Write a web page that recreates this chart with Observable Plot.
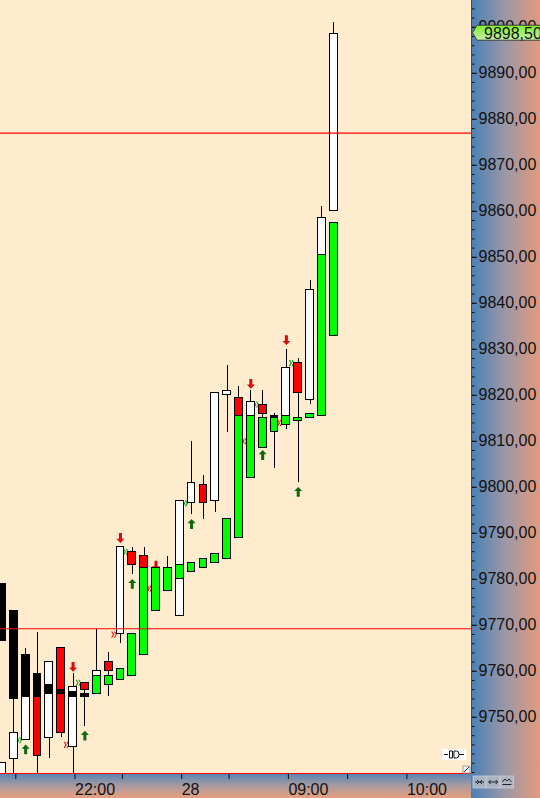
<!DOCTYPE html>
<html>
<head>
<meta charset="utf-8">
<script src="https://cdn.jsdelivr.net/npm/d3@7"></script>
<script src="https://cdn.jsdelivr.net/npm/@observablehq/plot@0.6"></script>
<style>
  html, body { margin: 0; padding: 0; background: #ffffff; }
  #chart { position: relative; width: 540px; height: 798px; overflow: hidden; }
  .bg { position: absolute; }
  #pane { left: 0; top: 0; width: 471px; height: 773px; background: #ffebcd; }
  #priceStrip { left: 471px; top: 0; width: 69px; height: 798px;
    background: linear-gradient(to right, #4a80b7 0%, #9c98a6 50%, #e49a7c 100%); }
  #timeStrip { left: 0; top: 773px; width: 471px; height: 25px;
    background: linear-gradient(to bottom, #5383b6 0%, #a89aa0 50%, #e8a07e 100%); }
  #chart svg { position: absolute; left: 0; top: 0; }
</style>
</head>
<body>
<div id="chart">
  <div class="bg" id="pane"></div>
  <div class="bg" id="priceStrip"></div>
  <div class="bg" id="timeStrip"></div>
</div>
<script>
// Bar positions in view (0 = leftmost, partly cut bar)
const slots = d3.range(29);

// Wick range of every bar (null = no wick)
const wickHigh = [null, 9773, 9765, 9768.5, 9762, 9765, 9759.5, 9757.5, 9769, 9764,
  9787, 9787, 9787, null, 9785, null, 9810, 9802.5, 9820.5, 9826.5,
  9822, 9821, 9821, 9816, 9830, 9828, 9845, 9861, 9901];
const wickLow = [null, 9733, 9745, 9733, 9741, 9745.5, 9733, 9748, 9759, 9754.5,
  9766, 9781, 9782.5, null, 9782.5, null, 9794, 9793, 9794.5, 9812,
  9815.5, 9815.5, 9808.5, 9804, 9812.5, 9801, 9818, 9850.5, 9860];

// Main candle bodies
const bodyTop = [9779, 9773, 9763.5, 9759.5, 9762, 9765, 9756.5, 9757.5, 9760, 9762,
  9787, 9786, 9785, 9782.5, 9782.5, 9797, 9801, 9800.5, 9820.5, 9821,
  9819.5, 9818.5, 9818, 9815, 9826, 9827, 9843, 9858.5, 9898.5];
const bodyBottom = [9766.5, 9754, 9754.5, 9754.5, 9745.5, 9746.5, 9743.5, 9756, 9759, 9760,
  9768, 9783, 9782.5, 9773, 9777.5, 9772, 9796.5, 9796.5, 9797, 9820,
  9815.5, 9815.5, 9816, 9812, 9815.5, 9820.5, 9819, 9850.5, 9860];
const bodyTone = ["down", "down", "down", "down", "up", "sell", "up", "sell", "up", "sell",
  "up", "sell", "sell", "buy", "buy", "up", "up", "sell", "up", "up",
  "sell", "up", "sell", "buy", "up", "sell", "up", "up", "up"];

// Overlay bodies drawn on top of the main candles (null = none)
const overlayTop = [9740, 9746.5, 9754.5, 9754.5, 9757, 9756, 9755.5, 9755, 9759, 9759,
  9760.5, 9768, 9782.5, null, null, 9783, 9783.5, 9784.5, 9785.5, 9793,
  9815.5, 9815.5, 9815, 9815.5, 9815.5, 9815, 9816, 9850.5, 9857.5];
const overlayBottom = [9733, 9741, 9745, 9741.5, 9755, 9755, 9754.5, 9754.5, 9755, 9757,
  9758, 9759, 9763.5, null, null, 9780, 9781.5, 9782.5, 9783.5, 9784.5,
  9789, 9802, 9808.5, 9815, 9813.5, 9814.5, 9815, 9815.5, 9833];
const overlayTone = ["up", "up", "up", "sell", "down", "down", "down", "down", "buy", "buy",
  "buy", "buy", "buy", null, null, "buy", "buy", "buy", "buy", "buy",
  "buy", "buy", "buy", "down", "buy", "buy", "buy", "buy", "buy"];

// Signal arrows
const buyArrowSlot = [2, 7, 11, 16, 22, 25];
const buyArrowPrice = [9743, 9746, 9779, 9792, 9807, 9799];
const sellArrowSlot = [6, 10, 13, 21, 24];
const sellArrowPrice = [9761, 9789, 9783, 9822.5, 9832];

// Small double-chevron markers, placed just after the given bar
const buyMarkSlot = [1, 6, 10, 15, 21, 24];
const buyMarkPrice = [9745, 9757.5, 9786, 9796.5, 9818, 9827];
const sellMarkSlot = [5, 9, 12, 20, 23];
const sellMarkPrice = [9744, 9768, 9778, 9810, 9814];

// Horizontal price levels and last traded price
const levels = [9877, 9769.25];
const lastPrice = 9898.5;

// Axis ticks
const priceTicks = [9750, 9760, 9770, 9780, 9790, 9800, 9810, 9820, 9830, 9840, 9850, 9860, 9870, 9880, 9890, 9900];
const priceMinorTicks = d3.range(9738, 9906, 2);
const timeTicks = [1, 6, 10, 15, 19, 24, 29, 34];
const timeLabels = new Map([[6, "22:00"], [15, "28"], [24, "09:00"], [34, "10:00"]]);

const xDomain = [-0.122, 39.62];
const yDomain = [9737.78, 9905.83];

const bars = slots.map((s, i) => ({slot: s, high: wickHigh[i], low: wickLow[i],
  top: bodyTop[i], bottom: bodyBottom[i], tone: bodyTone[i]}));
const wicks = bars.filter(d => d.high != null);
const overlays = slots.map((s, i) => ({slot: s, top: overlayTop[i], bottom: overlayBottom[i], tone: overlayTone[i]}))
  .filter(d => d.top != null);
const buyArrows = buyArrowSlot.map((s, i) => ({slot: s, price: buyArrowPrice[i]}));
const sellArrows = sellArrowSlot.map((s, i) => ({slot: s, price: sellArrowPrice[i]}));
const buyMarks = buyMarkSlot.map((s, i) => ({slot: s, price: buyMarkPrice[i]}));
const sellMarks = sellMarkSlot.map((s, i) => ({slot: s, price: sellMarkPrice[i]}));

// Custom symbols: block arrows and a double chevron
const arrowUp = {draw(c) {
  c.moveTo(0, -5); c.lineTo(4, -0.8); c.lineTo(1.5, -0.8); c.lineTo(1.5, 4.8);
  c.lineTo(-1.5, 4.8); c.lineTo(-1.5, -0.8); c.lineTo(-4, -0.8); c.closePath();
}};
const arrowDown = {draw(c) {
  c.moveTo(0, 5); c.lineTo(4, 0.8); c.lineTo(1.5, 0.8); c.lineTo(1.5, -4.8);
  c.lineTo(-1.5, -4.8); c.lineTo(-1.5, 0.8); c.lineTo(-4, 0.8); c.closePath();
}};
const chevrons = {draw(c) {
  c.moveTo(-2.3, -3); c.lineTo(-0.4, 0); c.lineTo(-2.3, 3);
  c.moveTo(0.4, -3); c.lineTo(2.3, 0); c.lineTo(0.4, 3);
}};

const half = 0.33;
const plot = Plot.plot({
  width: 540,
  height: 798,
  marginLeft: 0,
  marginTop: 0,
  marginRight: 69,
  marginBottom: 25,
  style: {background: "transparent", fontSize: "16px", fontFamily: "'Liberation Sans', Arial, sans-serif", color: "#111"},
  x: {domain: xDomain, axis: null},
  y: {domain: yDomain, axis: null},
  color: {domain: ["up", "down", "sell", "buy"], range: ["#ffffff", "#000000", "#ff0000", "#00ff00"]},
  marks: [
    Plot.ruleX(wicks, {x: "slot", y1: "low", y2: "high", stroke: "#000", strokeWidth: 1, clip: true, shapeRendering: "crispEdges"}),
    Plot.dot(buyArrows, {x: "slot", y: "price", symbol: arrowUp, r: 4.5, fill: "#0b6a0b", stroke: null}),
    Plot.dot(sellArrows, {x: "slot", y: "price", symbol: arrowDown, r: 4.5, fill: "#d80a0a", stroke: null}),
    Plot.dot(buyMarks, {x: d => d.slot + 0.45, y: "price", symbol: chevrons, r: 3, fill: "none", stroke: "#10a010", strokeWidth: 1.1}),
    Plot.dot(sellMarks, {x: d => d.slot + 0.45, y: "price", symbol: chevrons, r: 3, fill: "none", stroke: "#f01010", strokeWidth: 1.1}),
    Plot.rect(bars, {x1: d => d.slot - half, x2: d => d.slot + half, y1: "bottom", y2: "top", fill: "tone",
      stroke: "#000", strokeWidth: 1, clip: true, shapeRendering: "crispEdges"}),
    Plot.rect(overlays, {x1: d => d.slot - half, x2: d => d.slot + half, y1: "bottom", y2: "top", fill: "tone",
      stroke: "#000", strokeWidth: 1, clip: true, shapeRendering: "crispEdges"}),
    Plot.ruleY(levels, {stroke: "#ff0000", strokeWidth: 1.2}),
    Plot.ruleY([yDomain[0]], {stroke: "#ff0000", strokeWidth: 1.5, shapeRendering: "crispEdges"}),
    Plot.ruleX([xDomain[1]], {stroke: "#ff0000", strokeWidth: 1.5, shapeRendering: "crispEdges"}),
    Plot.axisY(priceMinorTicks, {anchor: "right", tickSize: 2.5, tickFormat: () => "", stroke: "#111", label: null}),
    Plot.axisY(priceTicks, {anchor: "right", tickSize: 5, tickPadding: 2, stroke: "#111", fill: "#111", label: null,
      tickFormat: d => d.toFixed(2).replace(".", ",")}),
    Plot.axisX(timeTicks, {anchor: "bottom", tickSize: 6, tickPadding: 4, stroke: "#111", fill: "#111", label: null,
      textAnchor: "start", dx: 2, tickFormat: d => timeLabels.get(d) ?? ""})
  ]
});

document.getElementById("chart").appendChild(plot);

// Last-price tag on the price scale
const svg = d3.select(plot);
const py = plot.scale("y").apply(lastPrice);
const xr = plot.scale("x").apply(xDomain[1]);
const defs = svg.append("defs");
const g = defs.append("linearGradient").attr("id", "lastTagFill").attr("x1", 0).attr("x2", 0).attr("y1", 0).attr("y2", 1);
g.append("stop").attr("offset", "0%").attr("stop-color", "#7cf226");
g.append("stop").attr("offset", "100%").attr("stop-color", "#c6eeac");
const tag = svg.append("g").attr("text-anchor", "start");
tag.append("path")
  .attr("d", `M${xr + 1.5},${py - 1} L${xr + 6},${py - 8.5} L${xr + 75},${py - 8.5} L${xr + 75},${py + 6.5} L${xr + 6},${py + 6.5} Z`)
  .attr("fill", "url(#lastTagFill)").attr("stroke", "#3a3a3a").attr("stroke-width", 1);
tag.append("text").attr("x", xr + 13).attr("y", py).attr("dy", "0.36em").attr("text-anchor", "start")
  .attr("font-size", 16).attr("fill", "#111").text(lastPrice.toFixed(2).replace(".", ","));

// Small control icons in the corners
const yb = plot.scale("y").apply(yDomain[0]);
const ui = svg.append("g").attr("fill", "none").attr("stroke", "#111").attr("stroke-width", 1);
ui.append("rect").attr("x", xr - 29).attr("y", yb - 24).attr("width", 24).attr("height", 11).attr("fill", "#ffffff").attr("stroke", "none");
ui.append("path").attr("d", `M${xr - 27},${yb - 18.5} H${xr - 23} M${xr - 18.5},${yb - 22} H${xr - 21.5} V${yb - 15} H${xr - 18.5} M${xr - 18.5},${yb - 22} V${yb - 15} M${xr - 17},${yb - 22} H${xr - 14.5} Q${xr - 12},${yb - 22} ${xr - 12},${yb - 18.5} Q${xr - 12},${yb - 15} ${xr - 14.5},${yb - 15} H${xr - 17} Z M${xr - 12},${yb - 18.5} H${xr - 7}`);
ui.append("rect").attr("x", xr - 8).attr("y", yb - 7).attr("width", 7).attr("height", 7).attr("fill", "#ffffff").attr("stroke", "#999");
ui.append("path").attr("d", `M${xr - 7},${yb - 1} L${xr - 2},${yb - 6}`).attr("stroke", "#333");

const btn = svg.append("g");
[0, 1, 2].forEach(i => {
  const bx = xr + 2 + i * 13.7;
  btn.append("rect").attr("x", bx).attr("y", yb + 3).attr("width", 13).attr("height", 12)
    .attr("fill", "#b3b9c6").attr("fill-opacity", 0.85).attr("stroke", "#c9ced8").attr("stroke-width", 0.8);
  const cy = yb + 9;
  let d;
  if (i === 0) d = `M${bx + 2},${cy} H${bx + 11} M${bx + 4},${cy - 2} L${bx + 6},${cy} L${bx + 4},${cy + 2} M${bx + 9},${cy - 2} L${bx + 7},${cy} L${bx + 9},${cy + 2}`;
  else if (i === 1) d = `M${bx + 2},${cy} H${bx + 11} M${bx + 4},${cy - 2} L${bx + 2},${cy} L${bx + 4},${cy + 2} M${bx + 9},${cy - 2} L${bx + 11},${cy} L${bx + 9},${cy + 2}`;
  else d = `M${bx + 2},${cy} L${bx + 4.5},${cy - 3} L${bx + 6.5},${cy - 1} L${bx + 8.5},${cy - 3} L${bx + 11},${cy} M${bx + 2},${cy + 2.5} H${bx + 11}`;
  btn.append("path").attr("d", d).attr("fill", "none").attr("stroke", "#222").attr("stroke-width", 1);
});
</script>
</body>
</html>
